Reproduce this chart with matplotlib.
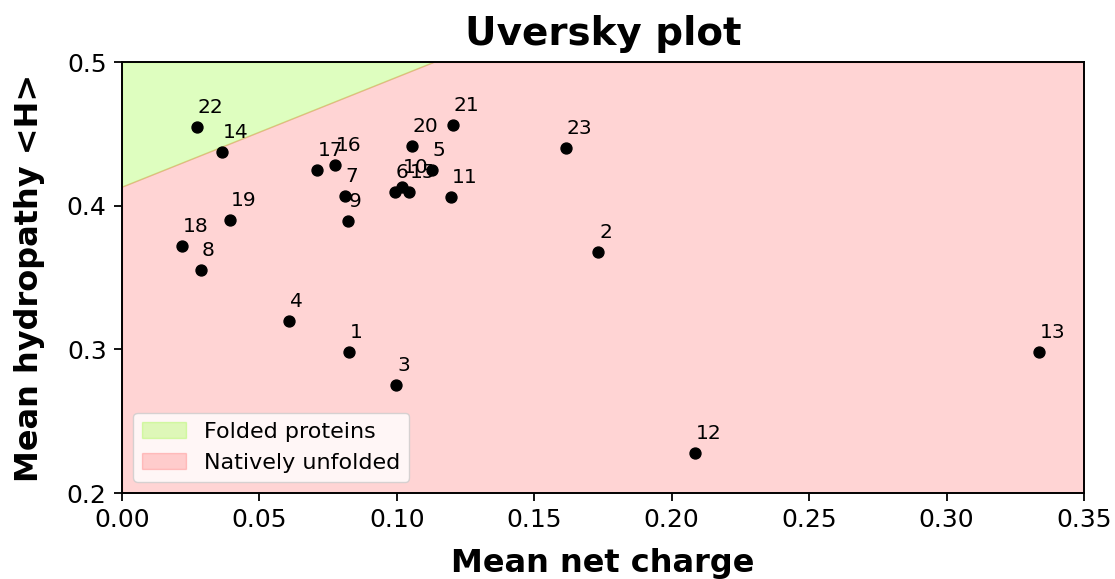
import numpy as np
import matplotlib
matplotlib.use("Agg")
import matplotlib.pyplot as plt

# mean net charge <R> and mean hydropathy <H> for each protein
labels = ["1", "2", "3", "4", "5", "6", "7", "8", "9", "10", "11", "12",
          "13", "14", "15", "16", "17", "18", "19", "20", "21", "22", "23"]
charge = [0.0826, 0.1732, 0.0997, 0.0608, 0.1128, 0.0993, 0.0811, 0.0287,
          0.0822, 0.1019, 0.1197, 0.2085, 0.3336, 0.0364, 0.1044, 0.0775,
          0.0709, 0.0218, 0.0393, 0.1055, 0.1204, 0.0273, 0.1615]
hydro = [0.2981, 0.3678, 0.2752, 0.3197, 0.4248, 0.4095, 0.4067, 0.3552,
         0.3893, 0.4130, 0.4060, 0.2279, 0.2981, 0.4374, 0.4095, 0.4283,
         0.4248, 0.3719, 0.3900, 0.4415, 0.4561, 0.4548, 0.4401]

# boundary between folded and natively unfolded
b_x = [0.0, 0.1132]
b_y = [0.4133, 0.5]

xmin, xmax = 0.0, 0.35
ymin, ymax = 0.2, 0.5

fig = plt.figure(figsize=(11.15, 5.79), dpi=100)
ax = fig.add_axes([0.1094, 0.1485, 0.8628, 0.7444])

slope = (b_y[1] - b_y[0]) / (b_x[1] - b_x[0])
xs = np.linspace(xmin, xmax, 400)
line = np.minimum(b_y[0] + slope * xs, ymax)

ax.fill_between(xs, line, ymax, where=line < ymax, color="lawngreen",
                alpha=0.25, label="Folded proteins", zorder=1)
ax.fill_between(xs, ymin, line, color="red", alpha=0.17,
                label="Natively unfolded", zorder=1)

ax.scatter(charge, hydro, s=62, color="black", zorder=3)
for lab, cx, hy in zip(labels, charge, hydro):
    ax.annotate(lab, (cx, hy), xytext=(0.7, 10), textcoords="offset points",
                ha="left", va="baseline", fontsize=14.5, zorder=4)

ax.set_xlim(xmin, xmax)
ax.set_ylim(ymin, ymax)
ax.set_xticks(np.arange(0, 0.351, 0.05))
ax.set_yticks([0.2, 0.3, 0.4, 0.5])
ax.xaxis.set_major_formatter(matplotlib.ticker.FormatStrFormatter("%.2f"))
ax.yaxis.set_major_formatter(matplotlib.ticker.FormatStrFormatter("%.1f"))
ax.tick_params(labelsize=18, length=6, width=1.3, pad=5)
for sp in ax.spines.values():
    sp.set_linewidth(1.4)

ax.set_title("Uversky plot", fontsize=28, fontweight="bold", pad=12)
ax.set_xlabel("Mean net charge", fontsize=23, fontweight="bold", labelpad=11)
ax.set_ylabel("Mean hydropathy <H>", fontsize=23, fontweight="bold", labelpad=16)

ax.legend(loc="lower left", fontsize=16)

fig.savefig("out.png", dpi=100)
